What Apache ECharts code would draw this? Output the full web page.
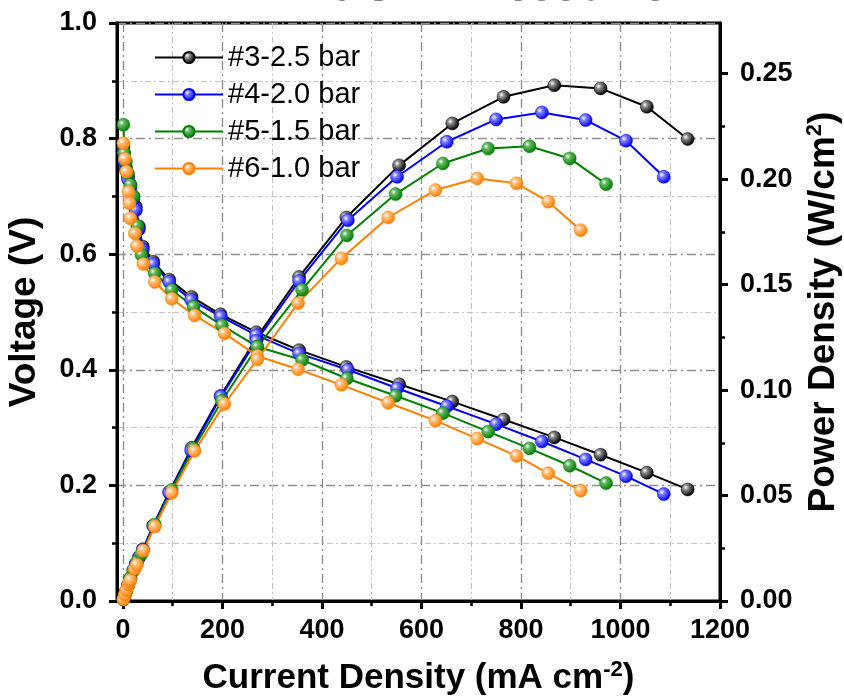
<!DOCTYPE html>
<html>
<head>
<meta charset="utf-8">
<title>Air Back Pressure</title>
<script src="https://cdn.jsdelivr.net/npm/echarts@6/dist/echarts.min.js"></script>
<style>
html,body{margin:0;padding:0;background:#fff}
#chart{width:844px;height:696px}
</style>
</head>
<body>
<div id="chart"></div>
<script>
// current density (mA cm-2), voltage (V), power density (W/cm2)
var names = ['#3-2.5 bar', '#4-2.0 bar', '#5-1.5 bar', '#6-1.0 bar'];
var colors = ['#000000', '#0000ff', '#008000', '#ff8000'];
var lights = ['#8a8a8a', '#8080ff', '#66b866', '#ffc080'];

var jBlack = [1, 3, 6, 10, 15, 21, 26, 32, 40, 61, 93, 138, 196, 268, 354, 449, 555, 662, 765, 867, 960, 1053, 1135];
var vBlack = [0.785, 0.765, 0.75, 0.735, 0.72, 0.70, 0.682, 0.648, 0.613, 0.587, 0.556, 0.526, 0.496, 0.465, 0.434, 0.405, 0.375, 0.345, 0.314, 0.283, 0.253, 0.222, 0.193];
var pBlack = [0.0008, 0.0023, 0.0045, 0.0074, 0.0108, 0.0147, 0.0177, 0.0207, 0.0245, 0.0358, 0.0517, 0.0726, 0.0972, 0.1246, 0.1536, 0.1818, 0.2065, 0.2264, 0.2390, 0.2445, 0.2430, 0.2343, 0.2190];

var jBlue = [1, 3, 6, 10, 15, 21, 26, 32, 40, 61, 93, 137, 197, 268, 354, 452, 551, 651, 750, 842, 930, 1011, 1087];
var vBlue = [0.775, 0.76, 0.745, 0.73, 0.715, 0.695, 0.676, 0.643, 0.608, 0.583, 0.552, 0.521, 0.492, 0.46, 0.428, 0.400, 0.368, 0.337, 0.306, 0.276, 0.245, 0.216, 0.185];
var pBlue = [0.0008, 0.0023, 0.0045, 0.0073, 0.0107, 0.0146, 0.0176, 0.0206, 0.0243, 0.0356, 0.0513, 0.0714, 0.0969, 0.1233, 0.1517, 0.1805, 0.2011, 0.2177, 0.2283, 0.2316, 0.2280, 0.2182, 0.2011];

var jGreen = [1, 3, 6, 10, 15, 21, 29, 37, 64, 98, 142, 199, 270, 360, 450, 548, 643, 734, 817, 898, 971];
var vGreen = [0.824, 0.775, 0.76, 0.74, 0.72, 0.70, 0.649, 0.599, 0.567, 0.538, 0.509, 0.477, 0.44, 0.417, 0.385, 0.355, 0.325, 0.293, 0.264, 0.234, 0.204];
var pGreen = [0.0008, 0.0023, 0.0046, 0.0074, 0.0108, 0.0147, 0.0188, 0.0222, 0.0363, 0.0527, 0.0723, 0.0949, 0.1205, 0.1475, 0.1733, 0.1929, 0.2074, 0.2145, 0.2156, 0.2098, 0.1976];

var jOrange = [1, 4, 7, 11, 13, 15, 24, 28, 41, 64, 98, 144, 204, 270, 352, 439, 533, 628, 712, 791, 855, 920];
var vOrange = [0.792, 0.765, 0.743, 0.708, 0.688, 0.662, 0.636, 0.614, 0.583, 0.552, 0.523, 0.494, 0.463, 0.424, 0.401, 0.374, 0.343, 0.312, 0.281, 0.251, 0.221, 0.191];
var pOrange = [0.0008, 0.0031, 0.0052, 0.0078, 0.0089, 0.0099, 0.0153, 0.0172, 0.0239, 0.0353, 0.0513, 0.0711, 0.0934, 0.1145, 0.1412, 0.1624, 0.1818, 0.1948, 0.2003, 0.1980, 0.1893, 0.1758];

// tick values
var xMajor = [0, 200, 400, 600, 800, 1000, 1200];
var xMinor = [100, 300, 500, 700, 900, 1100];
var pMajor = [0, 0.05, 0.10, 0.15, 0.20, 0.25];
var pMinor = [0.025, 0.075, 0.125, 0.175, 0.225];

var font = 'Liberation Sans';
var majorGrid = {color: '#8f8f8f', width: 1.4, type: [9, 4, 2, 4]};
var minorGrid = {color: '#c4c4c4', width: 1, type: [6, 3, 2, 3]};
var supStyle = {fontFamily: font, fontSize: 22, fontWeight: 'bold', color: '#000', verticalAlign: 'top', lineHeight: 22};

function ball(i) {
	return {
		type: 'radial', x: 0.35, y: 0.35, r: 0.65,
		colorStops: [
			{offset: 0, color: '#ffffff'},
			{offset: 0.3, color: lights[i]},
			{offset: 1, color: colors[i]}
		]
	};
}

function mk(i, xs, ys, yIdx) {
	return {
		name: names[i],
		type: 'line',
		xAxisIndex: 0,
		yAxisIndex: yIdx,
		data: xs.map(function (x, k) { return [x, ys[k]]; }),
		symbol: 'circle',
		symbolSize: 13,
		clip: false,
		lineStyle: {color: colors[i], width: 2},
		itemStyle: {color: ball(i), borderColor: colors[i], borderWidth: 0.5}
	};
}

var series = [
	mk(0, jBlack, vBlack, 0), mk(0, jBlack, pBlack, 1),
	mk(1, jBlue, vBlue, 0), mk(1, jBlue, pBlue, 1),
	mk(2, jGreen, vGreen, 0), mk(2, jGreen, pGreen, 1),
	mk(3, jOrange, vOrange, 0), mk(3, jOrange, pOrange, 1)
];

var gridBox = {left: 117, right: 124, top: 23, bottom: 95, outerBoundsMode: 'none'};

var chart = echarts.init(document.getElementById('chart'));
var option = {
	animation: false,
	backgroundColor: '#fff',
	graphic: [{
		type: 'text',
		x: 426, y: 15,
		style: {
			text: 'Air Back Pressure',
			font: 'bold 62px "Liberation Serif"',
			fill: '#000',
			textAlign: 'center',
			textVerticalAlign: 'bottom'
		}
	}],
	legend: {
		data: names,
		orient: 'vertical',
		left: 149, top: 38,
		itemWidth: 68, itemHeight: 14, itemGap: 8,
		textStyle: {fontFamily: font, fontSize: 29, lineHeight: 29, color: '#000'}
	},
	grid: [
		Object.assign({show: true, borderColor: '#000', borderWidth: 3}, gridBox),
		Object.assign({}, gridBox)
	],
	xAxis: [{
		gridIndex: 0,
		type: 'value', min: -12, max: 1200,
		name: 'Current Density (mA cm{sup|-2})',
		nameLocation: 'middle', nameGap: 58,
		nameTextStyle: {
			fontFamily: font, fontSize: 35, fontWeight: 'bold', color: '#000', lineHeight: 38,
			rich: {sup: supStyle}
		},
		axisLine: {show: true, onZero: false, lineStyle: {color: '#000', width: 3}},
		axisTick: {show: true, customValues: xMajor, length: 8, lineStyle: {color: '#000', width: 3}},
		axisLabel: {customValues: xMajor, margin: 16, fontFamily: font, fontSize: 27, fontWeight: 'bold', color: '#000',
			formatter: function (v) { return String(v); }},
		splitLine: {show: true, lineStyle: majorGrid}
	}, {
		gridIndex: 1,
		type: 'value', min: -12, max: 1200,
		axisLine: {show: false, onZero: false},
		axisTick: {show: true, customValues: xMinor, length: 5, lineStyle: {color: '#000', width: 2.5}},
		axisLabel: {show: false},
		splitLine: {show: true, lineStyle: minorGrid}
	}],
	yAxis: [{
		gridIndex: 0,
		type: 'value', position: 'left', min: 0, max: 1, interval: 0.2,
		name: 'Voltage (V)',
		nameLocation: 'middle', nameGap: 74,
		nameTextStyle: {fontFamily: font, fontSize: 37, fontWeight: 'bold', color: '#000'},
		axisLine: {show: true, onZero: false, lineStyle: {color: '#000', width: 3}},
		axisTick: {show: true, length: 8, lineStyle: {color: '#000', width: 3}},
		minorTick: {show: true, splitNumber: 2, length: 5, lineStyle: {color: '#000', width: 2.5}},
		axisLabel: {margin: 20, fontFamily: font, fontSize: 27, fontWeight: 'bold', color: '#000',
			formatter: function (v) { return v.toFixed(1); }},
		splitLine: {show: true, lineStyle: majorGrid},
		minorSplitLine: {show: true, lineStyle: minorGrid}
	}, {
		gridIndex: 0,
		type: 'value', position: 'right', min: 0, max: 0.274,
		name: 'Power Density (W/cm{sup|2})',
		nameLocation: 'middle', nameGap: 84,
		nameTextStyle: {
			fontFamily: font, fontSize: 37, fontWeight: 'bold', color: '#000', lineHeight: 40,
			rich: {sup: supStyle}
		},
		axisLine: {show: true, onZero: false, lineStyle: {color: '#000', width: 3}},
		axisTick: {show: true, customValues: pMajor, length: 8, lineStyle: {color: '#000', width: 3}},
		axisLabel: {customValues: pMajor, margin: 20, fontFamily: font, fontSize: 27, fontWeight: 'bold', color: '#000',
			formatter: function (v) { return v.toFixed(2); }},
		splitLine: {show: false}
	}, {
		gridIndex: 1,
		type: 'value', position: 'right', min: 0, max: 0.274,
		axisLine: {show: false, onZero: false},
		axisTick: {show: true, customValues: pMinor, length: 5, lineStyle: {color: '#000', width: 2.5}},
		axisLabel: {show: false},
		splitLine: {show: false}
	}],
	series: series
};
chart.setOption(option);
</script>
</body>
</html>
